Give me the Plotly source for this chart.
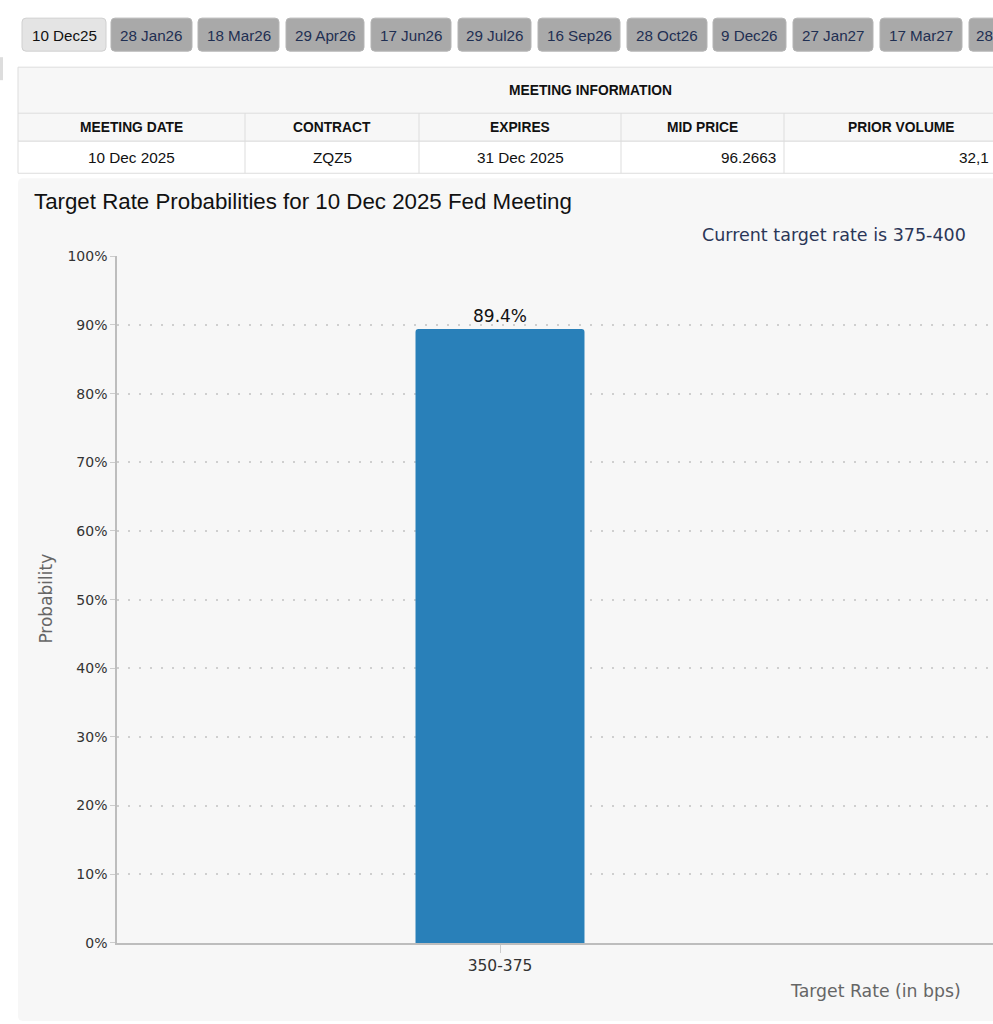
import plotly.graph_objects as go

# ---------------- data ----------------
categories = ["350-375"]
probabilities = [89.4]

tab_labels = ["10 Dec25", "28 Jan26", "18 Mar26", "29 Apr26", "17 Jun26", "29 Jul26",
              "16 Sep26", "28 Oct26", "9 Dec26", "27 Jan27", "17 Mar27", "28"]
tab_left = [22, 111, 198, 286, 371, 458, 538, 627, 713, 793, 880, 969]
tab_right = [106, 192, 279, 364, 451, 531, 620, 707, 786, 873, 962, 1010]

table_title = "MEETING INFORMATION"
col_headers = ["MEETING DATE", "CONTRACT", "EXPIRES", "MID PRICE", "PRIOR VOLUME"]
col_values = ["10 Dec 2025", "ZQZ5", "31 Dec 2025", "96.2663", "32,1"]
col_edges = [18, 245, 419, 621, 784, 1100]

chart_title = "Target Rate Probabilities for 10 Dec 2025 Fed Meeting"
current_rate_note = "Current target rate is 375-400"
y_title = "Probability"
x_title = "Target Rate (in bps)"

W, H = 993, 1030
OFF = 8
K = 1024 / 1041


def px(x):
    return x / W


def py(y):
    return 1 - (y / K - OFF) / H


def rrect(x0, y0, x1, y1, r):
    X0, X1 = px(x0), px(x1)
    Y0, Y1 = py(y0), py(y1)
    rx, ry = r / W, r / H
    return (f"M{X0+rx},{Y0} L{X1-rx},{Y0} Q{X1},{Y0} {X1},{Y0-ry} "
            f"L{X1},{Y1+ry} Q{X1},{Y1} {X1-rx},{Y1} L{X0+rx},{Y1} "
            f"Q{X0},{Y1} {X0},{Y1+ry} L{X0},{Y0-ry} Q{X0},{Y0} {X0+rx},{Y0} Z")


shapes = []
annotations = []

# small page element at left
shapes.append(dict(type="rect", xref="paper", yref="paper", x0=px(0), x1=px(3),
                   y0=py(80), y1=py(57), fillcolor="#dddddd", line=dict(width=0), layer="below"))

# tabs
for i, lab in enumerate(tab_labels):
    active = i == 0
    shapes.append(dict(type="path", xref="paper", yref="paper",
                       path=rrect(tab_left[i], 18, tab_right[i], 51, 4),
                       fillcolor="#e4e4e4" if active else "#a9a9a9",
                       line=dict(color="#d0d0d0" if active else "#b5b5b5", width=1),
                       layer="below"))
    if i < 11:
        ax, anc = px((tab_left[i] + tab_right[i]) / 2), "center"
    else:
        ax, anc = px(974), "left"
    annotations.append(dict(xref="paper", yref="paper", x=ax, xanchor=anc,
                            y=py(35), yanchor="middle", showarrow=False, text=lab,
                            font=dict(family="Liberation Sans, Arial", size=15.2,
                                      color="#111111" if active else "#1f2f52")))

# table
shapes.append(dict(type="rect", xref="paper", yref="paper", x0=px(18), x1=px(1100),
                   y0=py(141), y1=py(67), fillcolor="#f7f7f7",
                   line=dict(color="#dddddd", width=1), layer="below"))
shapes.append(dict(type="rect", xref="paper", yref="paper", x0=px(18), x1=px(1100),
                   y0=py(173), y1=py(141), fillcolor="#ffffff",
                   line=dict(color="#dddddd", width=1), layer="below"))
shapes.append(dict(type="line", xref="paper", yref="paper", x0=px(18), x1=px(1100),
                   y0=py(113), y1=py(113), line=dict(color="#dddddd", width=1), layer="below"))
for e in col_edges[1:-1]:
    shapes.append(dict(type="line", xref="paper", yref="paper", x0=px(e), x1=px(e),
                       y0=py(173), y1=py(113), line=dict(color="#dddddd", width=1), layer="below"))

annotations.append(dict(xref="paper", yref="paper", x=px(590), y=py(90), showarrow=False,
                        text=f"<b>{table_title}</b>", xanchor="center", yanchor="middle",
                        font=dict(family="Liberation Sans, Arial", size=13.8, color="#111111")))
for i, h in enumerate(col_headers):
    cx = (col_edges[i] + col_edges[i + 1]) / 2 if i < 4 else 901
    annotations.append(dict(xref="paper", yref="paper", x=px(cx), y=py(127), showarrow=False,
                            text=f"<b>{h}</b>", xanchor="center", yanchor="middle",
                            font=dict(family="Liberation Sans, Arial", size=13.8, color="#111111")))
for i, v in enumerate(col_values):
    if i < 3:
        cx, anc = (col_edges[i] + col_edges[i + 1]) / 2, "center"
    elif i == 3:
        cx, anc = 778, "right"
    else:
        cx, anc = 991, "right"
    annotations.append(dict(xref="paper", yref="paper", x=px(cx), y=py(157), showarrow=False,
                            text=v, xanchor=anc, yanchor="middle",
                            font=dict(family="Liberation Sans, Arial", size=15.3, color="#111111")))

# chart panel
shapes.append(dict(type="path", xref="paper", yref="paper",
                   path=rrect(18, 178, 1010, 1020, 5),
                   fillcolor="#f7f7f7", line=dict(width=0), layer="below"))

annotations.append(dict(xref="paper", yref="paper", x=px(32), y=py(201), showarrow=False,
                        text=chart_title, xanchor="left", yanchor="middle",
                        font=dict(family="Liberation Sans, Arial", size=22.3, color="#111111")))
annotations.append(dict(xref="paper", yref="paper", x=px(968), y=py(235), showarrow=False,
                        text=current_rate_note, xanchor="right", yanchor="middle",
                        font=dict(family="DejaVu Sans", size=17.5, color="#2b3657")))
annotations.append(dict(xref="paper", yref="paper", x=px(46), y=py(598), showarrow=False,
                        text=y_title, textangle=-90, xanchor="center", yanchor="middle",
                        font=dict(family="DejaVu Sans", size=17, color="#666666")))
annotations.append(dict(xref="paper", yref="paper", x=px(963), y=py(990), showarrow=False,
                        text=x_title, xanchor="right", yanchor="middle",
                        font=dict(family="DejaVu Sans", size=17.3, color="#666666")))

fig = go.Figure(go.Bar(
    x=categories, y=probabilities, width=0.2206,
    marker=dict(color="#2980b9", line=dict(width=0)),
    text=[f"{v}%" for v in probabilities], textposition="outside", cliponaxis=False,
    textfont=dict(family="DejaVu Sans", size=17, color="#111111"),
    hoverinfo="skip",
))

fig.update_layout(
    width=W, height=H,
    margin=dict(l=0, r=0, t=0, b=0),
    paper_bgcolor="#ffffff", plot_bgcolor="rgba(0,0,0,0)",
    showlegend=False, barcornerradius=3,
    shapes=shapes, annotations=annotations,
    xaxis=dict(domain=[px(117), 1], type="category", range=[-0.5, 0.6436],
               showline=True, linecolor="#bdbdbd", linewidth=2,
               ticks="outside", ticklen=8, tickcolor="#cccccc", tickwidth=1,
               showgrid=False, fixedrange=True,
               tickfont=dict(family="DejaVu Sans", size=15.5, color="#333333")),
    yaxis=dict(domain=[py(942), py(256)], range=[0, 100], dtick=10, ticksuffix="%",
               showline=True, linecolor="#bdbdbd", linewidth=1.5,
               ticks="outside", ticklen=5, tickcolor="#cccccc",
               showgrid=True, gridcolor="#cfcfcf", gridwidth=1.5, griddash="2px,9px",
               zeroline=False, fixedrange=True,
               tickfont=dict(family="DejaVu Sans", size=14, color="#333333")),
)

post_js = "document.body.style.margin='0';"

fig.write_html("out.html", config={"displayModeBar": False}, post_script=post_js)
